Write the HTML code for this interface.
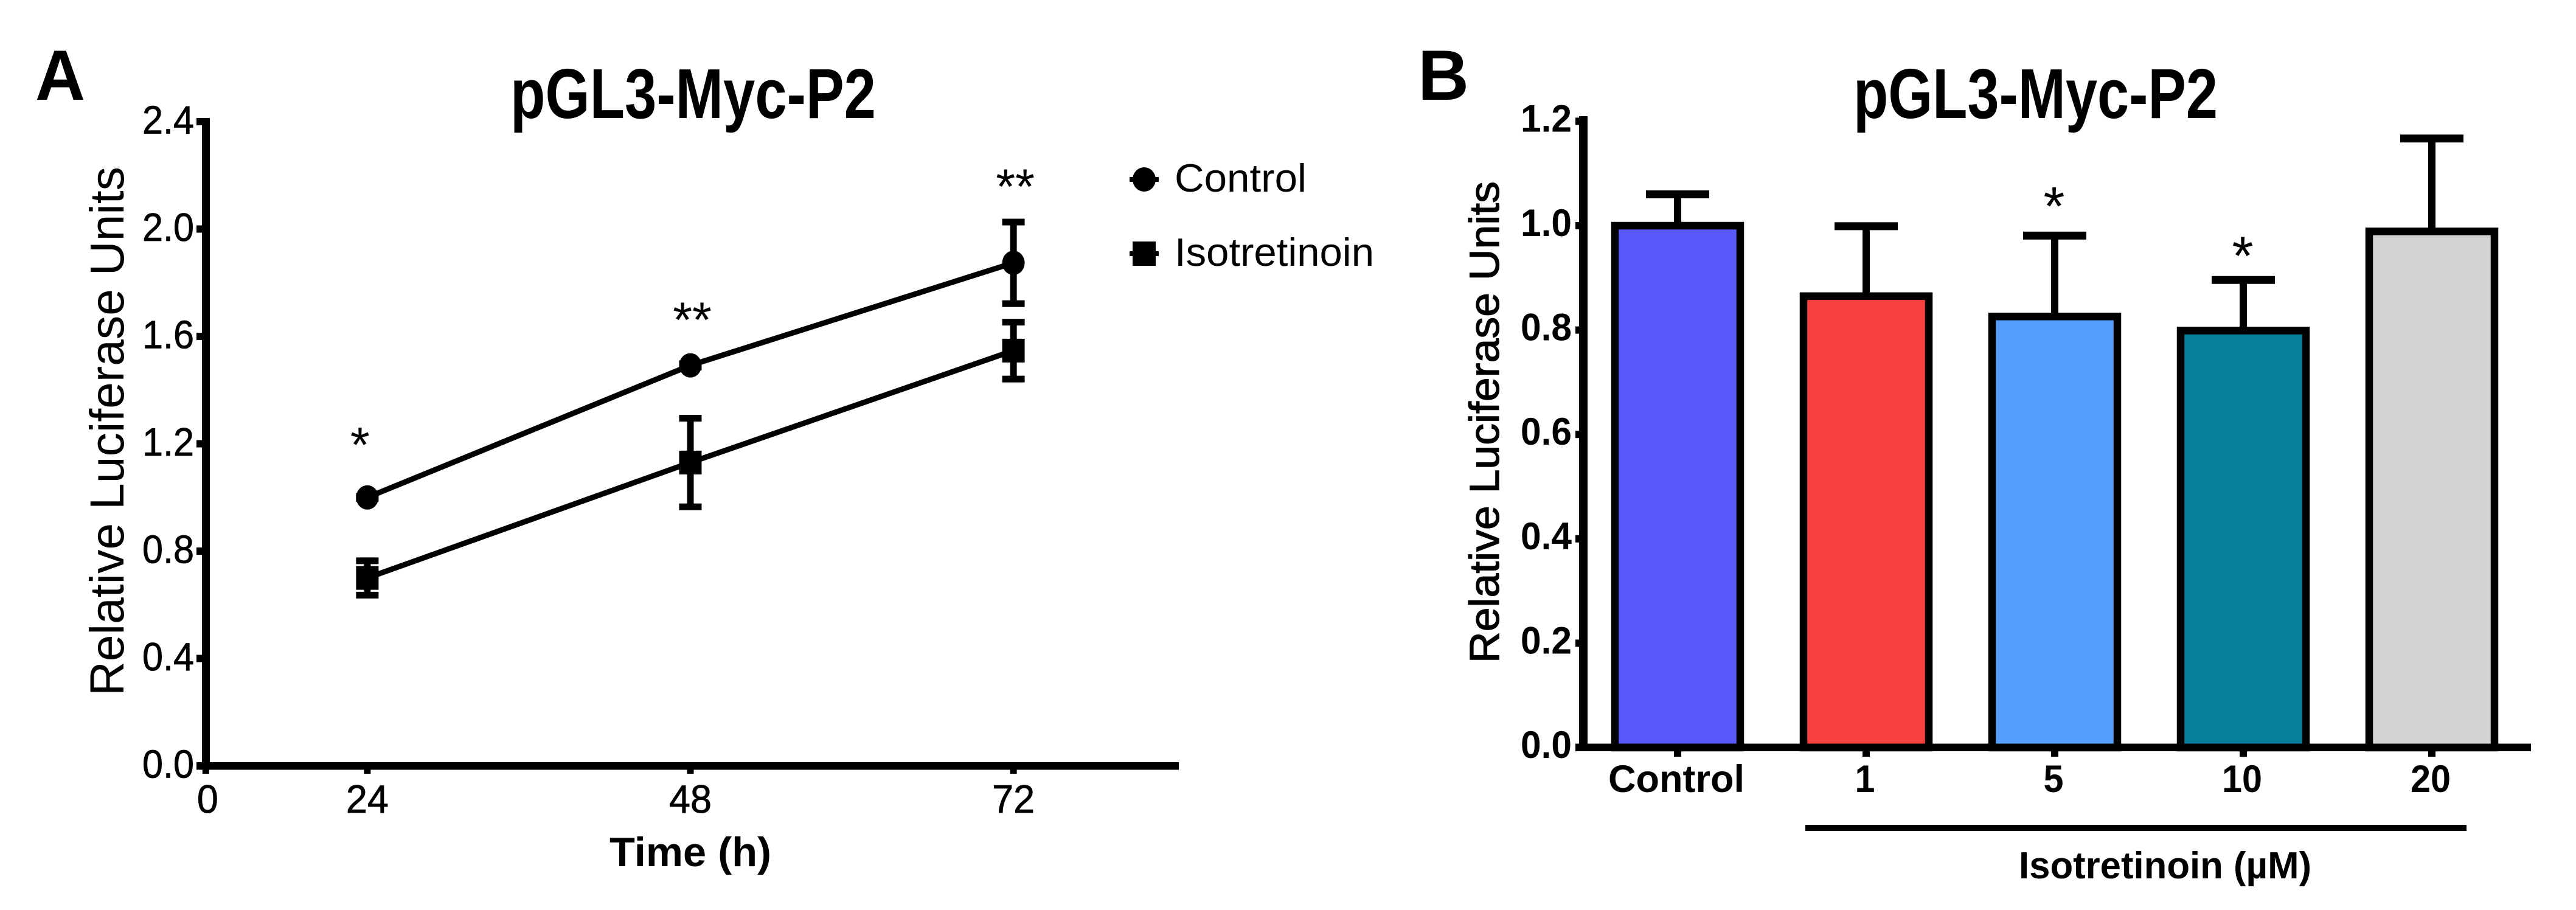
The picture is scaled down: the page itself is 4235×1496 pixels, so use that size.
<!DOCTYPE html>
<html lang="en">
<head>
<meta charset="utf-8">
<title>pGL3-Myc-P2 luciferase charts</title>
<style>
html,body{margin:0;padding:0;background:#fff;}
svg{display:block;}
text{font-family:"Liberation Sans",Arial,sans-serif;fill:#000;}
</style>
</head>
<body>
<svg id="figure" xmlns="http://www.w3.org/2000/svg" width="4235" height="1496" viewBox="0 0 4235 1496">
  <rect x="0" y="0" width="4235" height="1496" fill="#fff"/>

  <g id="panel-a">
    <text x="58" y="164" font-size="117" font-weight="bold" textLength="82" lengthAdjust="spacingAndGlyphs">A</text>
    <text x="839" y="194" font-size="116" font-weight="bold" textLength="601" lengthAdjust="spacingAndGlyphs">pGL3-Myc-P2</text>
    <text transform="translate(203,1144) rotate(-90)" x="0" y="0" font-size="79" textLength="870" lengthAdjust="spacingAndGlyphs">Relative Luciferase Units</text>
    <text x="1002" y="1424" font-size="68" font-weight="bold" textLength="266" lengthAdjust="spacingAndGlyphs">Time (h)</text>
    <g>
      <g>
        <rect x="1857" y="291" width="48" height="8" fill="#000"/>
        <ellipse cx="1881" cy="295" rx="19" ry="20" fill="#000"/>
        <text x="1931" y="315" font-size="65" textLength="217" lengthAdjust="spacingAndGlyphs">Control</text>
      </g>
      <g>
        <rect x="1857" y="413" width="48" height="8" fill="#000"/>
        <rect x="1862" y="397" width="38" height="40" fill="#000"/>
        <text x="1931" y="437" font-size="65" textLength="328" lengthAdjust="spacingAndGlyphs">Isotretinoin</text>
      </g>
    </g>
    <g id="a-marks"></g>
    <g id="a-axes"></g>
  </g>

  <g id="panel-b">
    <text x="2331" y="164" font-size="117" font-weight="bold" textLength="84" lengthAdjust="spacingAndGlyphs">B</text>
    <text x="3047" y="194" font-size="116" font-weight="bold" textLength="599" lengthAdjust="spacingAndGlyphs">pGL3-Myc-P2</text>
    <text transform="translate(2464,1090) rotate(-90)" x="0" y="0" font-size="69" textLength="792" lengthAdjust="spacingAndGlyphs" stroke="#000" stroke-width="1.2">Relative Luciferase Units</text>
    <rect x="2968" y="1356" width="1087" height="10" fill="#000"/>
    <text x="3319" y="1444" font-size="62" font-weight="bold" textLength="481" lengthAdjust="spacingAndGlyphs">Isotretinoin (µM)</text>
    <g id="b-marks"></g>
    <g id="b-axes"></g>
  </g>
</svg>

<script>
// ---- Panel A data ----
const timeHours = [24, 48, 72];
const controlMeans = [1.0, 1.492, 1.874];
const controlErrors = [0.004, 0.006, 0.152];
const isotretinoinMeans = [0.70, 1.13, 1.547];
const isotretinoinErrors = [0.064, 0.165, 0.106];
const aYTicks = [0, 0.4, 0.8, 1.2, 1.6, 2.0, 2.4];
const aXTickHours = [12, 24, 48, 72]; // axis origin sits at 12 h on the linear scale but is printed "0"
const aXTickLabels = ["0", "24", "48", "72"];
const aSignificance = ["*", "**", "**"];
const aSignificanceLevels = [1.132, 1.598, 2.094];

// ---- Panel B data ----
const doseLabels = ["Control", "1", "5", "10", "20"];
const barMeans = [1.0, 0.865, 0.826, 0.799, 0.989];
const barErrors = [0.06, 0.134, 0.155, 0.097, 0.178];
const barColors = ["#5757FA", "#F94040", "#559FFF", "#087F9A", "#D3D3D3"];
const bYTicks = [0, 0.2, 0.4, 0.6, 0.8, 1.0, 1.2];
const bSignificance = ["", "", "*", "*", ""];
const bSignificanceLevels = [0, 0, 1.001, 0.906, 0];

// ---- Axis functions ----
const xA = t => 1135 + (t - 48) * 22.13;
const yA = v => 1259 - v * 441.25;
const xB = i => 2758 + i * 310;
const yB = v => 1229 - v * 858;

const NS = "http://www.w3.org/2000/svg";
const aMarks = document.getElementById("a-marks");
const aAxes = document.getElementById("a-axes");
const bMarks = document.getElementById("b-marks");
const bAxes = document.getElementById("b-axes");

function make(parent, tag, attrs, text) {
  const el = document.createElementNS(NS, tag);
  for (const k in attrs) el.setAttribute(k, attrs[k]);
  if (text !== undefined) el.textContent = text;
  parent.appendChild(el);
  return el;
}

// ---- Panel A axes ----
let el = make(aAxes, "rect", {x: 332, y: 194, width: 13, height: 1071, fill: "#000"});


el = make(aAxes, "rect", {x: 323, y: 1253, width: 1615, height: 12.5, fill: "#000"});



aYTicks.forEach(v => {
  const tick = make(aAxes, "rect", {x: 323, y: yA(v) - 6, width: 12, height: 12, fill: "#000"});
  
  
  const label = make(aAxes, "text", {x: 319, y: yA(v) + 19.5, "font-size": 65, "text-anchor": "end", stroke: "#000", "stroke-width": 0.8, textLength: 85, lengthAdjust: "spacingAndGlyphs"}, v.toFixed(1));
  
  
});

aXTickHours.forEach((t, i) => {
  const tick = make(aAxes, "rect", {x: xA(t) - 5.5, y: 1260, width: 11, height: 12, fill: "#000"});
  
  
  const text = aXTickLabels[i];
  const label = make(aAxes, "text", {x: xA(t) + (i === 0 ? 3 : 0), y: 1336, "font-size": 65, "text-anchor": "middle", stroke: "#000", "stroke-width": 0.8, textLength: text.length * 35, lengthAdjust: "spacingAndGlyphs"}, text);
  
  
});

// ---- Panel A series ----
function errorBarA(t, mean, err, seriesName) {
  const stem = make(aMarks, "rect", {x: xA(t) - 5.5, y: yA(mean + err), width: 11, height: yA(mean - err) - yA(mean + err), fill: "#000"});
  
  
  const capTop = make(aMarks, "rect", {x: xA(t) - 18.5, y: yA(mean + err) - 5.5, width: 37, height: 11, fill: "#000"});
  
  
  const capBottom = make(aMarks, "rect", {x: xA(t) - 18.5, y: yA(mean - err) - 5.5, width: 37, height: 11, fill: "#000"});
  
  
}

const controlLine = make(aMarks, "polyline", {points: timeHours.map((t, i) => xA(t) + "," + yA(controlMeans[i])).join(" "), fill: "none", stroke: "#000", "stroke-width": 9});


const isoLine = make(aMarks, "polyline", {points: timeHours.map((t, i) => xA(t) + "," + yA(isotretinoinMeans[i])).join(" "), fill: "none", stroke: "#000", "stroke-width": 9});



timeHours.forEach((t, i) => {
  errorBarA(t, controlMeans[i], controlErrors[i], 'control');
  errorBarA(t, isotretinoinMeans[i], isotretinoinErrors[i], 'isotretinoin');
  const circle = make(aMarks, "ellipse", {cx: xA(t), cy: yA(controlMeans[i]), rx: 18.5, ry: 20, fill: "#000"});
  
  
  const square = make(aMarks, "rect", {x: xA(t) - 18.5, y: yA(isotretinoinMeans[i]) - 19.5, width: 37, height: 39, fill: "#000"});
  
  
  const star = make(aMarks, "text", {x: xA(t) + (i === 0 ? -12 : 3), y: yA(aSignificanceLevels[i]), "font-size": 82, "text-anchor": "middle"}, aSignificance[i]);
  
  
});

// ---- Panel B bars ----
doseLabels.forEach((name, i) => {
  const stem = make(bMarks, "rect", {x: xB(i) - 6, y: yB(barMeans[i] + barErrors[i]), width: 12, height: yB(barMeans[i]) - yB(barMeans[i] + barErrors[i]), fill: "#000"});
  
  
  const cap = make(bMarks, "rect", {x: xB(i) - 52, y: yB(barMeans[i] + barErrors[i]) - 6.5, width: 104, height: 13, fill: "#000"});
  
  
  const bar = make(bMarks, "rect", {x: xB(i) - 103, y: yB(barMeans[i]), width: 206, height: yB(0) - yB(barMeans[i]), fill: barColors[i], stroke: "#000", "stroke-width": 12.5});
  
  
  if (bSignificance[i]) {
    const star = make(bMarks, "text", {x: xB(i) - 1, y: yB(bSignificanceLevels[i]), "font-size": 90, "text-anchor": "middle"}, bSignificance[i]);
    
    
  }
  const tick = make(bAxes, "rect", {x: xB(i) - 6, y: 1230, width: 12, height: 14, fill: "#000"});
  
  
  const label = make(bAxes, "text", {x: xB(i) - 2, y: 1302, "font-size": 63, "font-weight": "bold", "text-anchor": "middle", textLength: name.length === 7 ? 224 : name.length * 33, lengthAdjust: "spacingAndGlyphs"}, name);
  
  
});

// ---- Panel B axes ----
el = make(bAxes, "rect", {x: 2596, y: 191, width: 14, height: 1044, fill: "#000"});


el = make(bAxes, "rect", {x: 2590, y: 1222.5, width: 1571, height: 12.5, fill: "#000"});



bYTicks.forEach(v => {
  const tick = make(bAxes, "rect", {x: 2590, y: yB(v) - 6, width: 12, height: 12, fill: "#000"});
  
  
  const label = make(bAxes, "text", {x: 2584, y: yB(v) + 17, "font-size": 63, "font-weight": "bold", "text-anchor": "end", textLength: 84, lengthAdjust: "spacingAndGlyphs"}, v.toFixed(1));
  
  
});
</script>
</body>
</html>
